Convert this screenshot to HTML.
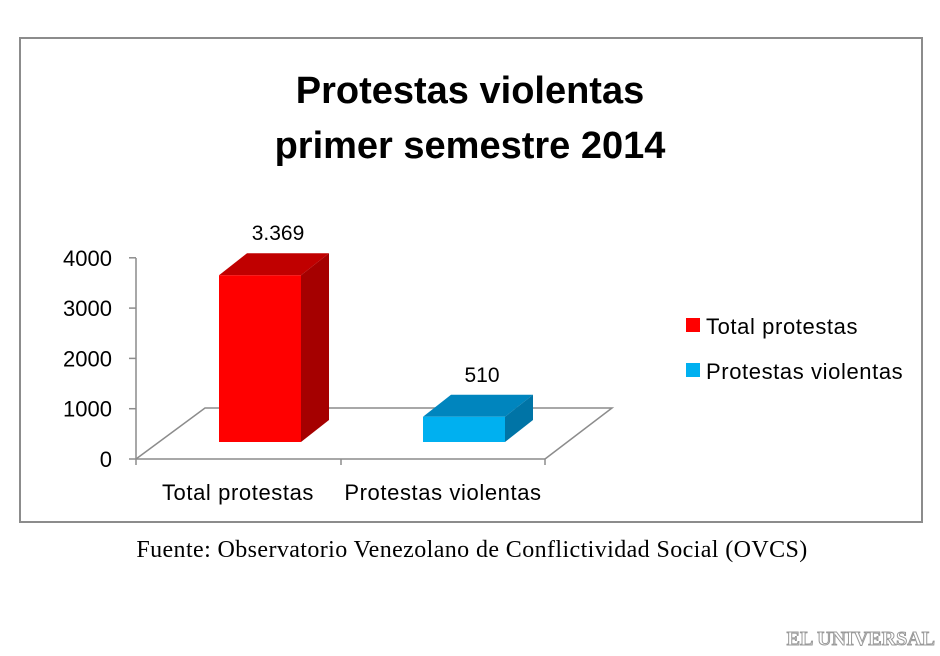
<!DOCTYPE html>
<html><head><meta charset="utf-8"><style>
body{margin:0;width:940px;height:651px;background:#fff;overflow:hidden;font-family:"Liberation Sans",sans-serif}
</style></head><body>
<svg width="940" height="651" xmlns="http://www.w3.org/2000/svg">
<rect x="20" y="38" width="902" height="484" fill="#fff" stroke="#8c8c8c" stroke-width="2"/>
<text x="470" y="103" text-anchor="middle" font-size="38" font-weight="bold">Protestas violentas</text>
<text x="470" y="158" text-anchor="middle" font-size="38" font-weight="bold">primer semestre 2014</text>
<g id="plot"></g>
<rect x="686" y="318" width="14" height="14" fill="#ff0000"/>
<text x="706" y="334" font-size="22" letter-spacing="0.6">Total protestas</text>
<rect x="686" y="363" width="14" height="14" fill="#00b0f0"/>
<text x="706" y="379" font-size="22" letter-spacing="0.6">Protestas violentas</text>
<text x="472" y="557" text-anchor="middle" font-size="24" letter-spacing="0.4" font-family="Liberation Serif, serif">Fuente: Observatorio Venezolano de Conflictividad Social (OVCS)</text>
<text x="935" y="645" text-anchor="end" font-size="20" font-family="Liberation Serif, serif" font-weight="bold" fill="#fff" stroke="#999" stroke-width="1">EL UNIVERSAL</text>
</svg>
<script>
const categories=["Total protestas","Protestas violentas"];
const values=[3369,510];
const labels=["3.369","510"];
const ticks=[0,1000,2000,3000,4000];
const NS="http://www.w3.org/2000/svg";
const g=document.getElementById("plot");
function mk(t,a){const e=document.createElementNS(NS,t);for(const k in a)e.setAttribute(k,a[k]);g.appendChild(e);return e;}
const axisY=v=>459-v*0.0503;
const barY=v=>442-v*0.0495;
const catX=i=>219+i*204;
const grey="#8c8c8c";
let e=mk("polyline",{points:"136,459 205,408 612,408 545,459",fill:"none",stroke:grey,"stroke-width":1.5});


e=mk("line",{x1:136,y1:258,x2:136,y2:459,stroke:grey,"stroke-width":1.5});


e=mk("line",{x1:136,y1:459,x2:545,y2:459,stroke:grey,"stroke-width":1.5});


[136,341,545].forEach(x=>{const t=mk("line",{x1:x,y1:459,x2:x,y2:465,stroke:grey,"stroke-width":1.5});

});
ticks.forEach(v=>{const y=axisY(v);
const l=mk("line",{x1:129,y1:y,x2:136,y2:y,stroke:grey,"stroke-width":1.5});


const t=mk("text",{x:112,y:y+8,"text-anchor":"end","font-size":22});t.textContent=v;

});
const cols=[["#ff0000","#c00000","#a50000"],["#00b0f0","#0085be","#0074a6"]];
const W=82,dx=28,dy=22;
values.forEach((v,i)=>{const x=catX(i),yt=barY(v),yb=442,c=cols[i];
const top=mk("polygon",{points:`${x},${yt} ${x+dx},${yt-dy} ${x+W+dx},${yt-dy} ${x+W},${yt}`,fill:c[1]});


const side=mk("polygon",{points:`${x+W},${yt} ${x+W+dx},${yt-dy} ${x+W+dx},${yb-dy} ${x+W},${yb}`,fill:c[2]});


const f=mk("rect",{x:x,y:yt,width:W,height:yb-yt,fill:c[0]});


const lb=mk("text",{x:x+W/2+18,y:yt-dy-13,"text-anchor":"middle","font-size":21});lb.textContent=labels[i];


const cl=mk("text",{x:[238,443][i],y:500,"text-anchor":"middle","font-size":22,"letter-spacing":0.6});cl.textContent=categories[i];


});
</script>
</body></html>
